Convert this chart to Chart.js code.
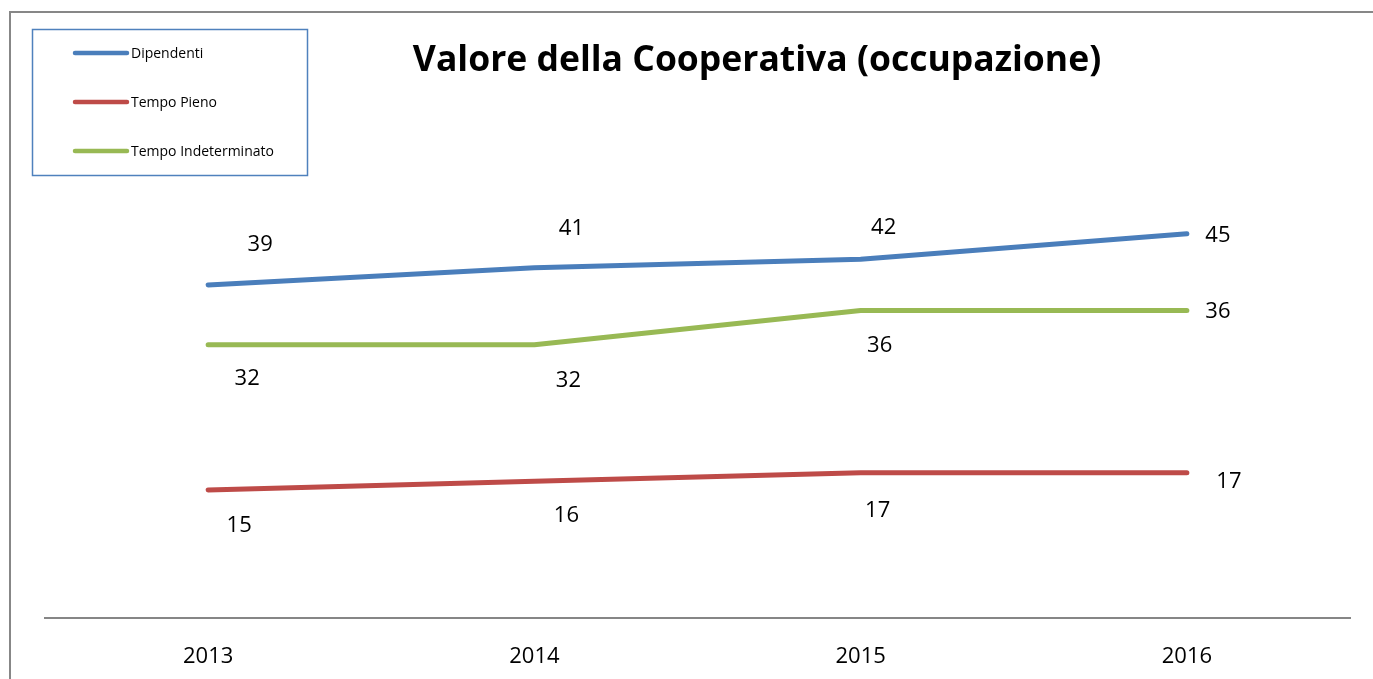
<!DOCTYPE html>
<html>
<head>
<meta charset="utf-8">
<script src="https://cdn.jsdelivr.net/npm/chart.js@4"></script>
<style>
  html, body { margin: 0; padding: 0; background: #fff; }
</style>
</head>
<body>
<canvas id="occupazione" width="1373" height="679"></canvas>
<script>
const anni = ['2013', '2014', '2015', '2016'];
const dipendenti = [39, 41, 42, 45];
const tempoPieno = [15, 16, 17, 17];
const tempoIndeterminato = [32, 32, 36, 36];
const nomiSerie = ['Dipendenti', 'Tempo Pieno', 'Tempo Indeterminato'];
const colori = ['#4A7EBB', '#BE4B48', '#98B954'];
const titolo = 'Valore della Cooperativa (occupazione)';

const font = '"Open Sans", "DejaVu Sans", sans-serif';

// where each value label sits relative to its point (Excel-style placement)
const labelOffsets = [
  [[52, -40], [37, -39], [23, -32], [31, 2]],
  [[31, 36], [32, 34], [17, 38], [42, 9]],
  [[39, 34], [34, 36], [19, 35], [31, 1]]
];

const decor = {
  id: 'decor',
  beforeDraw(chart) {
    const c = chart.ctx;
    c.save();
    // outer frame (only left and top visible)
    c.strokeStyle = '#878787';
    c.lineWidth = 2;
    c.beginPath();
    c.moveTo(10, 679);
    c.lineTo(10, 12);
    c.lineTo(1373, 12);
    c.stroke();
    c.restore();
  },
  afterDraw(chart) {
    const c = chart.ctx;
    c.save();
    // title
    c.fillStyle = '#000';
    c.font = 'bold 35.5px ' + font;
    c.textAlign = 'center';
    c.textBaseline = 'middle';
    c.fillText(titolo, 757, 61);

    // legend box
    c.strokeStyle = '#4F81BD';
    c.lineWidth = 1.5;
    c.strokeRect(32.5, 29.5, 275, 146);
    c.font = '14px ' + font;
    c.textAlign = 'left';
    chart.data.datasets.forEach((ds, i) => {
      const y = 53 + i * 49;
      c.strokeStyle = ds.borderColor;
      c.lineWidth = 4.5;
      c.lineCap = 'round';
      c.beginPath();
      c.moveTo(75, y);
      c.lineTo(127, y);
      c.stroke();
      c.fillStyle = '#000';
      c.fillText(ds.label, 131, y + 1);
    });

    // value labels
    c.font = '22px ' + font;
    c.textAlign = 'center';
    c.fillStyle = '#000';
    chart.data.datasets.forEach((ds, i) => {
      chart.getDatasetMeta(i).data.forEach((pt, j) => {
        const off = labelOffsets[i][j];
        c.fillText(String(ds.data[j]), pt.x + off[0], pt.y + off[1]);
      });
    });
    c.restore();
  }
};

new Chart(document.getElementById('occupazione'), {
  type: 'line',
  data: {
    labels: anni,
    datasets: [
      { label: nomiSerie[0], data: dipendenti, borderColor: colori[0] },
      { label: nomiSerie[1], data: tempoPieno, borderColor: colori[1] },
      { label: nomiSerie[2], data: tempoIndeterminato, borderColor: colori[2] }
    ]
  },
  options: {
    responsive: false,
    animation: false,
    devicePixelRatio: 1,
    layout: { padding: { left: 45, right: 23, top: 191, bottom: 0 } },
    elements: {
      line: { borderWidth: 5, tension: 0, borderCapStyle: 'round', borderJoinStyle: 'round', fill: false },
      point: { radius: 0, hoverRadius: 0 }
    },
    plugins: {
      legend: { display: false },
      title: { display: false },
      tooltip: { enabled: false }
    },
    scales: {
      x: {
        offset: true,
        grid: { display: false },
        border: { display: true, color: '#868686', width: 2 },
        ticks: { color: '#000', font: { family: font, size: 22 }, padding: 18 },
        afterFit(s) { s.height = 61; }
      },
      y: {
        display: false,
        min: 0,
        max: 50
      }
    }
  },
  plugins: [decor]
});
</script>
</body>
</html>
